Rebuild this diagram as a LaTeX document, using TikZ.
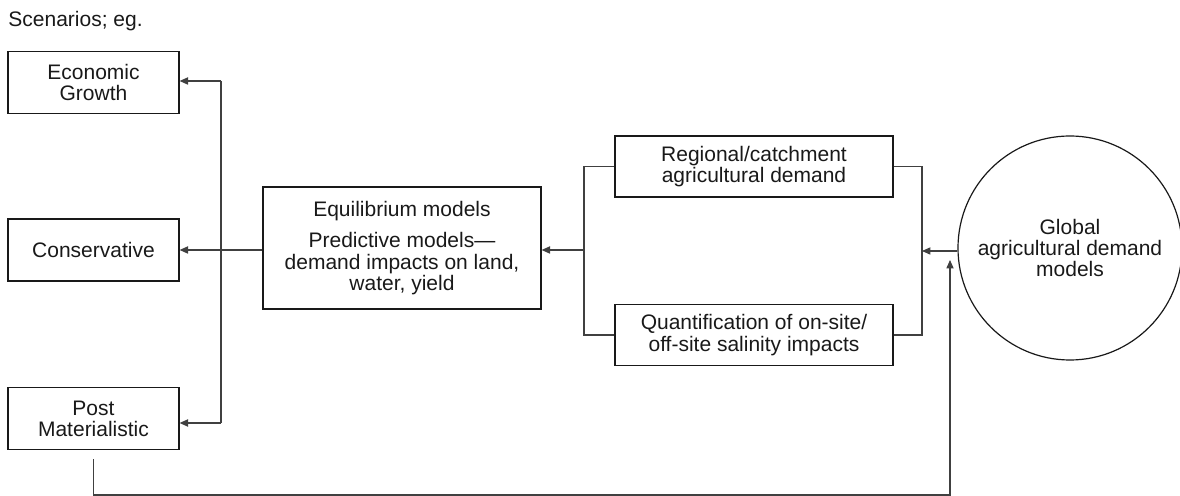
\documentclass[tikz,border=0pt]{standalone}
\usepackage{fontspec}
\setmainfont{Liberation Sans}
\usetikzlibrary{arrows.meta,calc}

\begin{document}
\begin{tikzpicture}[
  x=0.5pt, y=-0.5pt,
  every node/.style={font=\fontsize{10.5pt}{10.6pt}\selectfont, text=black!90},
  box/.style={draw=black!90, line width=0.6pt, align=center, inner sep=0pt},
  scen/.style={box, minimum width=85.5pt, minimum height=31pt},
  model/.style={box, minimum width=139pt, minimum height=30.5pt},
  link/.style={draw=black!75, line width=0.55pt},
  arr/.style={link, -{Triangle[length=4.2pt,width=3.6pt]}}
]
\useasboundingbox (0,0) rectangle (1180,496);

% caption
\node[anchor=base west, inner sep=0pt] (cap) at (8,26.5) {Scenarios; eg.};

% scenario boxes
\node[scen] (econ) at (93.5,82.5) {Economic\\Growth};
\node[scen] (cons) at (93.5,250) {Conservative};
\node[scen] (post) at (93.5,418.5) {Post\\Materialistic};

% central model box
\node[box, minimum width=139pt, minimum height=61pt] (equil) at (402,248)
  {Equilibrium models\\[5pt]Predictive models---\\demand impacts on land,\\water, yield};

% regional models
\node[model] (reg) at (754,166.5) {Regional/catchment\\agricultural demand};
\node[model] (quant) at (754,335) {Quantification of on-site/\\off-site salinity impacts};

% global model
\node[circle, draw=black!90, line width=0.6pt, minimum size=112pt, align=center, inner sep=0pt]
  (glob) at (1070,248) {Global\\agricultural demand\\models};

% junction points
\coordinate (vtop) at (221,81);
\coordinate (vmid) at (221,250);
\coordinate (vbot) at (221,423);
\coordinate (jl) at (584,250);
\coordinate (jr) at (922,251);
\coordinate (bend) at (950,495);
\coordinate (uptip) at (950,260);

% distribution to scenarios
\draw[link] (vtop) -- (vbot);
\draw[arr] (vtop) -- (econ.east |- vtop);
\draw[arr] (vbot) -- (post.east |- vbot);
\draw[arr] (equil.west |- vmid) -- (cons.east |- vmid);

% regional models feed the equilibrium models
\draw[link] (reg.west) -| (jl) |- (quant.west);
\draw[arr] (jl) -- (equil.east |- jl);

% global model feeds the regional models
\draw[link] (reg.east) -| (jr) |- (quant.east);
\draw[arr] (glob.west |- jr) -- (jr);

% feedback from the post-materialistic scenario
\draw[arr] ($(post.south)+(0,9)$) |- (bend) -- (uptip);
\end{tikzpicture}
\end{document}
